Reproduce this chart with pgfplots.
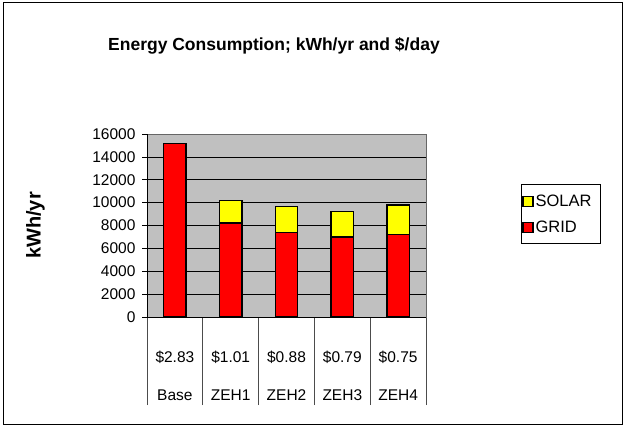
\documentclass[border=0pt]{standalone}
\usepackage{pgfplots}
\pgfplotsset{compat=1.18}
\usepackage{fontspec}
\setmainfont{Liberation Sans}
\definecolor{plotgray}{RGB}{192,192,192}
\definecolor{solar}{RGB}{255,255,0}
\definecolor{grid}{RGB}{255,0,0}
\begin{document}
\begin{tikzpicture}
\begin{axis}[
  scale only axis,
  width=279pt, height=183pt,
  ybar stacked,
  bar width=0.4,
  xmin=-0.5, xmax=4.5,
  ymin=0, ymax=16000,
  ytick={0,2000,...,16000},
  xtick={0,1,2,3,4},
  xticklabels={{\$2.83\\[20pt]Base},{\$1.01\\[20pt]ZEH1},{\$0.88\\[20pt]ZEH2},{\$0.79\\[20pt]ZEH3},{\$0.75\\[20pt]ZEH4}},
  xticklabel style={align=center, anchor=north, yshift=-25pt, font=\fontsize{15.5}{18}\selectfont},
  yticklabel style={font=\fontsize{15.5}{18}\selectfont, xshift=-3pt},
  /pgf/number format/assume math mode=true,
  scaled y ticks=false,
  yticklabel={\pgfmathprintnumber[1000 sep={}]{\tick}},
  minor xtick={-0.5,0.5,...,4.5},
  tick pos=left,
  major tick length=5pt,
  minor tick length=88pt,
  tick align=outside,
  tick style={black, line width=0.6pt},
  xtick style={draw=none},
  minor x tick style={draw=gray!60!black, line width=0.8pt},
  axis background/.style={fill=plotgray},
  axis line style={draw=gray!80!black, line width=0.8pt},
  ymajorgrids,
  grid style={black, line width=0.6pt},
  ylabel={\bfseries kWh/yr},
  ylabel style={at={(axis description cs:-0.40,0.5)}, anchor=center, font=\fontsize{20}{24}\selectfont},
  title={\bfseries Energy Consumption; kWh/yr and \$/day},
  title style={at={(axis description cs:0.455,1.45)}, anchor=center, font=\fontsize{17.5}{20}\selectfont},
  clip=false,
  reverse legend,
  legend style={at={(axis description cs:1.34,0.725)}, anchor=north west, draw=black, line width=0.8pt,
    font=\fontsize{16.5}{19}\selectfont, row sep=9pt, inner xsep=1pt, inner ysep=8pt},
  legend cell align=left,
  legend image code/.code={\draw[#1, draw=black, line width=1.3pt] (0pt,-5pt) rectangle (10pt,5pt);},
]
\addplot[fill=grid, draw=black, line width=1.4pt] coordinates {(0,15150) (1,8230) (2,7370) (3,6990) (4,7215)};
\addplot[fill=solar, draw=black, line width=1.4pt] coordinates {(0,0) (1,1970) (2,2280) (3,2225) (4,2585)};
\legend{\makebox[62pt][l]{GRID},\makebox[62pt][l]{SOLAR}}
\draw[black, line width=0.8pt] (rel axis cs:0,0) -- (rel axis cs:0,1);
\draw[black, line width=0.8pt] (rel axis cs:0,0) -- (rel axis cs:1,0);
\path (rel axis cs:-0.5269,-0.6066) rectangle (rel axis cs:1.7168,1.7322);
\draw[black, line width=1pt] (rel axis cs:-0.516,-0.585) rectangle (rel axis cs:1.7025,1.716);
\end{axis}
\end{tikzpicture}
\end{document}
